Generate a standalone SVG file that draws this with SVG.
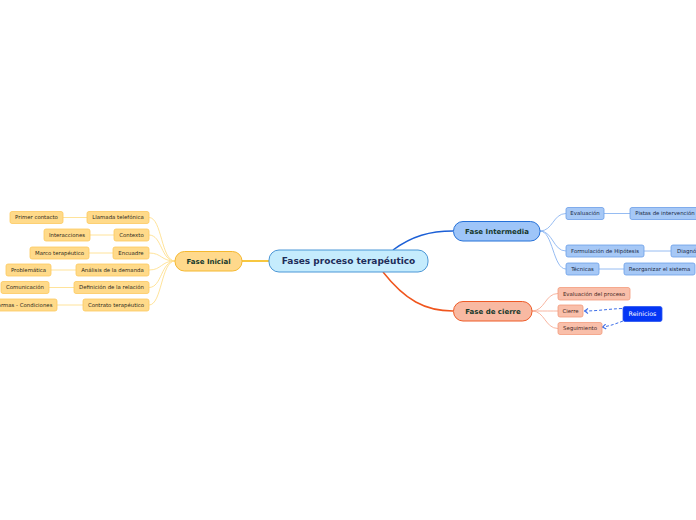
<svg xmlns="http://www.w3.org/2000/svg" width="696" height="520" viewBox="0 0 696 520">
<defs>
<style>
text{font-family:"DejaVu Sans","Liberation Sans",sans-serif;text-anchor:middle}
.leaf text{font-size:5.4px;fill:#2e2a20}
.y rect{fill:#ffda8a;stroke:#fcc95e;stroke-width:0.8}
.b rect{fill:#a6c8f6;stroke:#6b9ee8;stroke-width:0.8}
.b text{fill:#1a2a44}
.o rect{fill:#f9bfaa;stroke:#f29a7c;stroke-width:0.8}
.o text{fill:#44261e}
.phase text{font-size:7px;font-weight:bold;fill:#17392c}
.cy{fill:none;stroke:#ffe08e;stroke-width:0.9}
.cb{fill:none;stroke:#8ab4f0;stroke-width:0.9}
.co{fill:none;stroke:#f7ad95;stroke-width:0.9}
.dash{fill:none;stroke:#3d6ee8;stroke-width:1;stroke-dasharray:3 2;marker-end:url(#arr)}
</style>
<marker id="arr" viewBox="0 0 6 6" refX="5" refY="3" markerWidth="6" markerHeight="6" orient="auto" markerUnits="userSpaceOnUse">
<path d="M1.5,0.5 L5,3 L1.5,5.5" fill="none" stroke="#3d6ee8" stroke-width="1.1"/>
</marker>
</defs>
<rect width="696" height="520" fill="#ffffff"/>
<g id="connectors">
<path d="M242,261 L269,261" stroke="#f5b400" stroke-width="1.5" fill="none"/>
<path d="M393,250 C412,236 430,231 453,231" stroke="#1b5fd6" stroke-width="1.5" fill="none"/>
<path d="M383,272 C405,300 425,311 453,311" stroke="#f0561e" stroke-width="1.5" fill="none"/>
<path class="cy" d="M175,261 C161,261 162,217.5 149,217.5"/>
<path class="cy" d="M175,261 C161,261 162,235 149,235"/>
<path class="cy" d="M175,261 C161,261 162,253 149,253"/>
<path class="cy" d="M175,261 C161,261 162,270 149,270"/>
<path class="cy" d="M175,261 C161,261 162,287.5 149,287.5"/>
<path class="cy" d="M175,261 C161,261 162,305 149,305"/>
<path class="cy" d="M63,217.5 L87,217.5"/>
<path class="cy" d="M90,235 L114,235"/>
<path class="cy" d="M89,253 L113,253"/>
<path class="cy" d="M51,270 L76,270"/>
<path class="cy" d="M49,287.5 L74,287.5"/>
<path class="cy" d="M57,305 L83,305"/>
<path class="cb" d="M540,231 C553,231 553,213.5 566,213.5"/>
<path class="cb" d="M540,231 C553,231 553,251 566,251"/>
<path class="cb" d="M540,231 C553,231 553,269 566,269"/>
<path class="cb" d="M604,213.5 L630,213.5"/>
<path class="cb" d="M644,251 L671,251"/>
<path class="cb" d="M599,269 L624,269"/>
<path class="co" d="M532,311 C545,311 545,293.5 558,293.5"/>
<path class="co" d="M532,311 C545,311 545,311 558,311"/>
<path class="co" d="M532,311 C545,311 545,328.5 558,328.5"/>
<path class="dash" d="M622,308.5 C608,309 598,311 584.5,311"/>
<path class="dash" d="M623,321 C615,324 610,326 602.5,327"/>
</g>
<g id="root">
<rect x="269" y="250" width="159" height="22" rx="10" fill="#c5ecfd" stroke="#4b97d6" stroke-width="1"/>
<text x="348.5" y="264.2" font-size="9" font-weight="bold" fill="#1e2d5a">Fases proceso terapéutico</text>
</g>
<g id="fase-inicial" class="phase">
<rect x="175" y="251.5" width="67" height="19.5" rx="9.5" fill="#ffd98c" stroke="#f5b82e" stroke-width="1"/>
<text x="208.5" y="263.7">Fase Inicial</text>
</g>
<g id="fase-intermedia" class="phase">
<rect x="453.5" y="221.5" width="86.5" height="19.5" rx="9.5" fill="#9ec5f8" stroke="#2470d8" stroke-width="1"/>
<text x="497" y="233.7">Fase Intermedia</text>
</g>
<g id="fase-cierre" class="phase">
<rect x="453.5" y="301.5" width="78.5" height="19.5" rx="9.5" fill="#f8b9a2" stroke="#ee5a26" stroke-width="1"/>
<text x="493" y="313.7">Fase de cierre</text>
</g>
<g id="llamada" class="leaf y"><rect x="87" y="211.5" width="62" height="12" rx="2"/><text x="118" y="219.4">Llamada telefónica</text></g>
<g id="primer-contacto" class="leaf y"><rect x="10" y="211.5" width="53" height="12" rx="2"/><text x="36.5" y="219.4">Primer contacto</text></g>
<g id="contexto" class="leaf y"><rect x="114" y="229" width="35" height="12" rx="2"/><text x="131.5" y="236.9">Contexto</text></g>
<g id="interacciones" class="leaf y"><rect x="44" y="229" width="46" height="12" rx="2"/><text x="67" y="236.9">Interacciones</text></g>
<g id="encuadre" class="leaf y"><rect x="113" y="247" width="36" height="12" rx="2"/><text x="131" y="254.9">Encuadre</text></g>
<g id="marco" class="leaf y"><rect x="30" y="247" width="59" height="12" rx="2"/><text x="59.5" y="254.9">Marco terapéutico</text></g>
<g id="analisis" class="leaf y"><rect x="76" y="264" width="73" height="12" rx="2"/><text x="112.5" y="271.9">Análisis de la demanda</text></g>
<g id="problematica" class="leaf y"><rect x="6" y="264" width="45" height="12" rx="2"/><text x="28.5" y="271.9">Problemática</text></g>
<g id="definicion" class="leaf y"><rect x="74" y="281.5" width="75" height="12" rx="2"/><text x="111.5" y="289.4">Definición de la relación</text></g>
<g id="comunicacion" class="leaf y"><rect x="1" y="281.5" width="48" height="12" rx="2"/><text x="25" y="289.4">Comunicación</text></g>
<g id="contrato" class="leaf y"><rect x="83" y="299" width="66" height="12" rx="2"/><text x="116" y="306.9">Contrato terapéutico</text></g>
<g id="normas" class="leaf y"><rect x="-12" y="299" width="69" height="12" rx="2"/><text x="23" y="306.9">Normas - Condiciones</text></g>
<g id="evaluacion" class="leaf b"><rect x="566" y="207.5" width="38" height="12" rx="2"/><text x="585" y="215.4">Evaluación</text></g>
<g id="pistas" class="leaf b"><rect x="630" y="207.5" width="75" height="12" rx="2"/><text x="665" y="215.4">Pistas de intervención</text></g>
<g id="formulacion" class="leaf b"><rect x="566" y="245" width="78" height="12" rx="2"/><text x="605" y="252.9">Formulación de Hipótesis</text></g>
<g id="diagnostico" class="leaf b"><rect x="671" y="245" width="44" height="12" rx="2"/><text x="693" y="252.9">Diagnóstico</text></g>
<g id="tecnicas" class="leaf b"><rect x="566" y="263" width="33" height="12" rx="2"/><text x="582.5" y="270.9">Técnicas</text></g>
<g id="reorganizar" class="leaf b"><rect x="624" y="263" width="71" height="12" rx="2"/><text x="659.5" y="270.9">Reorganizar el sistema</text></g>
<g id="eval-proceso" class="leaf o"><rect x="558" y="287.5" width="72" height="12.5" rx="2"/><text x="594" y="295.6">Evaluación del proceso</text></g>
<g id="cierre" class="leaf o"><rect x="558" y="305" width="25" height="12" rx="2"/><text x="570.5" y="312.9">Cierre</text></g>
<g id="seguimiento" class="leaf o"><rect x="558" y="322.5" width="44" height="12" rx="2"/><text x="580" y="330.4">Seguimiento</text></g>
<g id="reinicios"><rect x="623" y="306.5" width="39" height="15" rx="2" fill="#0436f5" stroke="#2a55f0" stroke-width="0.8"/><text x="642.5" y="316.3" font-size="6.3" fill="#ffffff">Reinicios</text></g>
</svg>
